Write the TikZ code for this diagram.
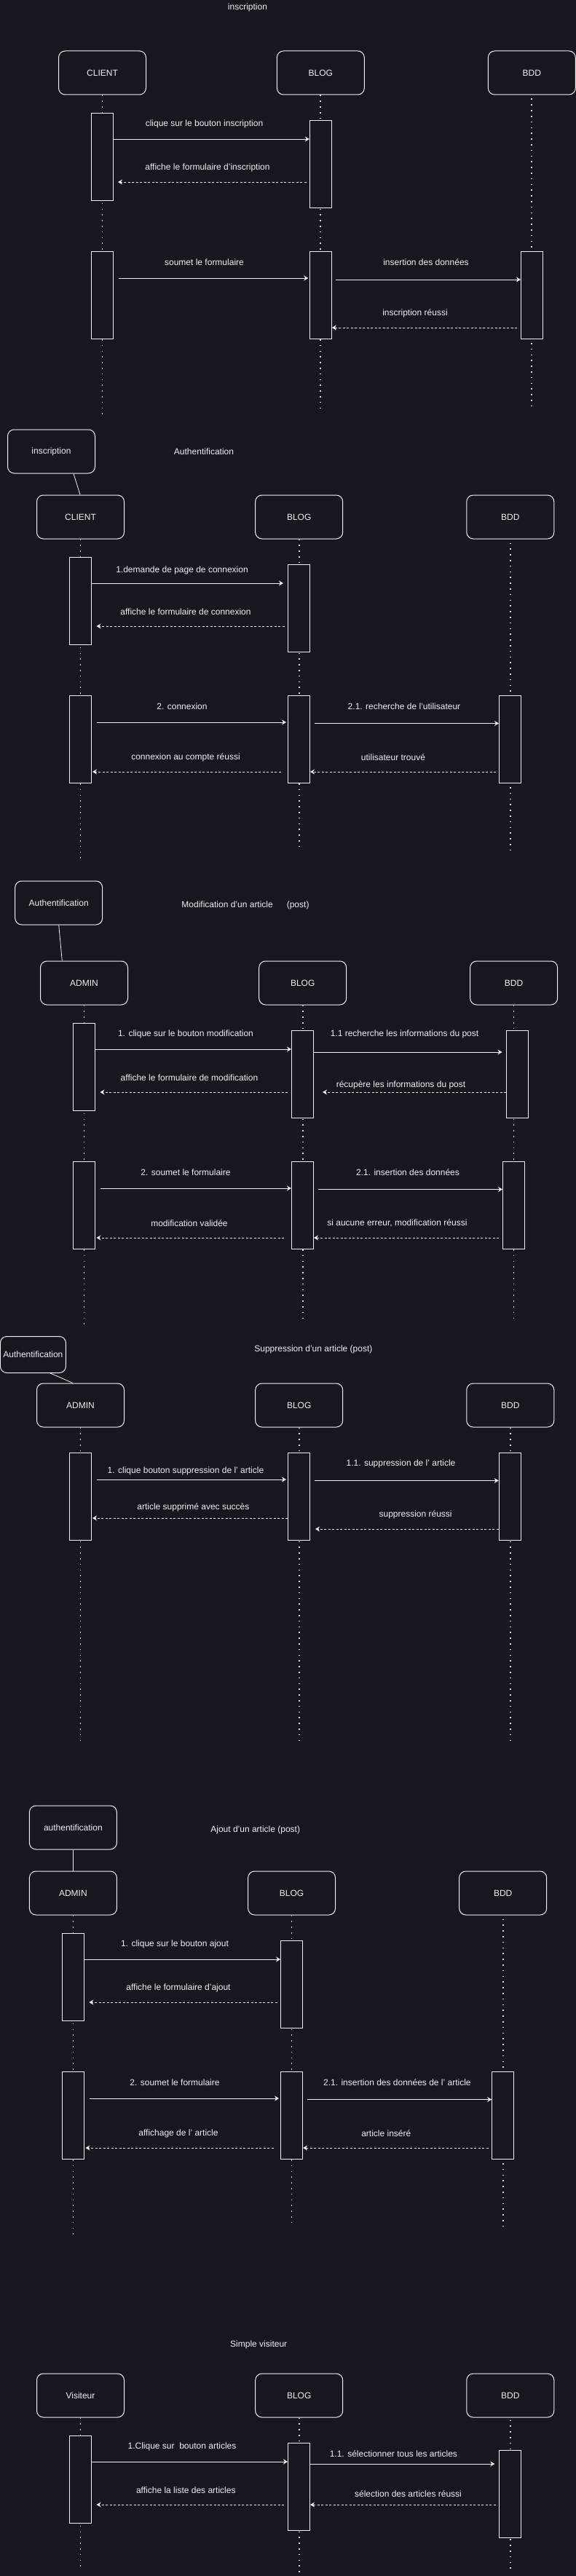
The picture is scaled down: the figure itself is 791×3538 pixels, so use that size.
\documentclass[tikz,border=0pt]{standalone}
\usepackage{fontspec}
\setmainfont{Liberation Sans}
\usetikzlibrary{arrows.meta}
\definecolor{bg}{HTML}{18161F}
\definecolor{fg}{HTML}{F0F0F0}
\definecolor{dotc}{HTML}{D8D8D8}
\tikzset{
  base/.style={font=\fontsize{12}{14}\selectfont, text=fg},
  part/.style={base, draw=fg, fill=bg, line width=1pt, rounded corners=9pt, minimum width=120pt, minimum height=60pt, inner sep=0pt},
  smallnote/.style={part, minimum width=90pt, minimum height=50pt},
  actbox/.style={draw=fg, fill=bg, line width=1pt, minimum width=30pt, minimum height=120pt, inner sep=0pt},
  life/.style={draw=dotc, line width=1.7pt, dash pattern=on 1.7pt off 6.1pt},
  msg/.style={draw=fg, line width=1pt, -{Stealth[length=6pt,width=7pt]}},
  ret/.style={msg, dash pattern=on 3pt off 2.5pt},
  lbl/.style={base, inner sep=0pt},
  link/.style={draw=fg, line width=0.8pt},
}
\begin{document}
\begin{tikzpicture}[x=1pt,y=-1pt]
\fill[bg] (0,0) rectangle (791,3538);
\useasboundingbox (0,0) rectangle (791,3538);

% ================= Section 1 : inscription =================
\node[lbl] (t1) at (340,10) {inscription};
\node[part] (p1a) at (140.5,100) {CLIENT};
\node[part] (p1b) at (440.3,100) {BLOG};
\node[part] (p1c) at (730.3,100) {BDD};
\draw[life] (p1a.south) -- (p1a.south |- 0,570);
\draw[life] (p1b.south) -- (p1b.south |- 0,560);
\draw[life, shorten <=5pt] (p1c.south) -- (p1c.south |- 0,560);
\node[actbox] (s1a1) at (140.5,215) {};
\node[actbox] (s1b1) at (440.3,225) {};
\node[actbox] (s1a2) at (140.5,405) {};
\node[actbox] (s1b2) at (440.3,405) {};
\node[actbox] (s1c2) at (730.5,405) {};
\draw[msg] (s1a1.east |- 0,191) -- (s1b1.west |- 0,191);
\draw[ret, shorten <=4pt, shorten >=6pt] (s1b1.west |- 0,250) -- (s1a1.east |- 0,250);
\draw[msg, shorten <=7pt, shorten >=1.5pt] (s1a2.east |- 0,382) -- (s1b2.west |- 0,382);
\draw[msg, shorten <=5.5pt] (s1b2.east |- 0,384) -- (s1c2.west |- 0,384);
\draw[ret, shorten <=5pt] (s1c2.west |- 0,450) -- (s1b2.east |- 0,450);
\node[lbl] (l11) at (280.5,170) {clique sur le bouton inscription};
\node[lbl] (l12) at (285,230) {affiche le formulaire d'inscription};
\node[lbl] (l13) at (280.5,360) {soumet le formulaire};
\node[lbl] (l14) at (585,360) {insertion des données};
\node[lbl] (l15) at (570,430) {inscription réussi};

% ================= Section 2 : Authentification =================
\node[lbl] (t2) at (280,620) {Authentification};
\node[part] (n2) at (70.5,620) {inscription};
\node[part] (p2a) at (110.5,710) {CLIENT};
\node[part] (p2b) at (410.7,710) {BLOG};
\node[part] (p2c) at (700.8,710) {BDD};
\draw[link] ([xshift=30.5pt]n2.south) -- ([xshift=-0.5pt]p2a.north);
\draw[life] (p2a.south) -- (p2a.south |- 0,1180);
\draw[life] (p2b.south) -- (p2b.south |- 0,1169);
\draw[life, shorten <=5pt] (p2c.south) -- (p2c.south |- 0,1169);
\node[actbox] (s2a1) at (110.5,825) {};
\node[actbox] (s2b1) at (410.5,835) {};
\node[actbox] (s2a2) at (110.5,1015) {};
\node[actbox] (s2b2) at (410.5,1015) {};
\node[actbox] (s2c2) at (700.5,1015) {};
\draw[msg, shorten >=6pt] (s2a1.east |- 0,801) -- (s2b1.west |- 0,801);
\draw[ret, shorten <=4.5pt, shorten >=6.5pt] (s2b1.west |- 0,860) -- (s2a1.east |- 0,860);
\draw[msg, shorten <=6.5pt, shorten >=2pt] (s2a2.east |- 0,992) -- (s2b2.west |- 0,992);
\draw[msg, shorten <=5.5pt] (s2b2.east |- 0,993.5) -- (s2c2.west |- 0,993.5);
\draw[ret, shorten <=9.5pt, shorten >=1pt] (s2b2.west |- 0,1060) -- (s2a2.east |- 0,1060);
\draw[ret, shorten <=4pt] (s2c2.west |- 0,1060) -- (s2b2.east |- 0,1060);
\node[lbl] (l21) at (250,783) {1.demande de page de connexion};
\node[lbl] (l22) at (255,840) {affiche le formulaire de connexion};
\node[lbl] (l23) at (250,970) {2. connexion};
\node[lbl] (l24) at (555,970) {2.1. recherche de l'utilisateur};
\node[lbl] (l25) at (255,1040) {connexion au compte réussi};
\node[lbl] (l26) at (540,1040) {utilisateur trouvé};

% ================= Section 3 : Modification =================
\node[lbl] (t3) at (337,1243) {Modification d'un article\hspace{19pt}(post)};
\node[part] (n3) at (80.7,1240) {Authentification};
\node[part] (p3a) at (115.5,1350) {ADMIN};
\node[part] (p3b) at (415.7,1350) {BLOG};
\node[part] (p3c) at (705.6,1350) {BDD};
\draw[link] (n3.south) -- ([xshift=-30.2pt]p3a.north);
\draw[life] (p3a.south) -- (p3a.south |- 0,1820);
\draw[life] (p3b.south) -- (p3b.south |- 0,1810);
\draw[life] (p3c.south) -- (p3c.south |- 0,1810);
\node[actbox] (s3a1) at (115.5,1465) {};
\node[actbox] (s3b1) at (415.5,1475) {};
\node[actbox] (s3c1) at (710.6,1475) {};
\node[actbox] (s3a2) at (115.5,1655) {};
\node[actbox] (s3b2) at (415.5,1655) {};
\node[actbox] (s3c2) at (705.6,1655) {};
\draw[msg] (s3a1.east |- 0,1441) -- (s3b1.west |- 0,1441);
\draw[msg, shorten >=5.6pt] (s3b1.east |- 0,1445) -- (s3c1.west |- 0,1445);
\draw[ret, shorten <=4.6pt, shorten >=6.5pt] (s3b1.west |- 0,1500) -- (s3a1.east |- 0,1500);
\draw[ret, shorten >=12pt] (s3c1.west |- 0,1500) -- (s3b1.east |- 0,1500);
\draw[msg, shorten <=7pt] (s3a2.east |- 0,1632) -- (s3b2.west |- 0,1632);
\draw[msg, shorten <=5.6pt] (s3b2.east |- 0,1633.5) -- (s3c2.west |- 0,1633.5);
\draw[ret, shorten <=9.6pt, shorten >=1.5pt] (s3b2.west |- 0,1700) -- (s3a2.east |- 0,1700);
\draw[ret, shorten <=4.7pt] (s3c2.west |- 0,1700) -- (s3b2.east |- 0,1700);
\node[lbl] (l31) at (255,1420) {1. clique sur le bouton modification};
\node[lbl] (l32) at (555.5,1420) {1.1 recherche les informations du post};
\node[lbl] (l33) at (260,1480) {affiche le formulaire de modification};
\node[lbl] (l34) at (550.5,1490) {récupère les informations du post};
\node[lbl] (l35) at (255,1610) {2. soumet le formulaire};
\node[lbl] (l36) at (560,1610) {2.1. insertion des données};
\node[lbl] (l37) at (260,1680) {modification validée};
\node[lbl] (l38) at (545.4,1680) {si aucune erreur, modification réussi};

% ================= Section 4 : Suppression =================
\node[lbl] (t4) at (430.4,1853) {Suppression d'un article (post)};
\node[smallnote] (n4) at (45.4,1860.5) {Authentification};
\node[part] (p4a) at (110.5,1930) {ADMIN};
\node[part] (p4b) at (410.7,1930) {BLOG};
\node[part] (p4c) at (700.8,1930) {BDD};
\draw[link] ([xshift=23.7pt]n4.south) -- ([xshift=-10.6pt]p4a.north);
\draw[life] (p4a.south) -- (p4a.south |- 0,2397);
\draw[life] (p4b.south) -- (p4b.south |- 0,2390);
\draw[life] (p4c.south) -- (p4c.south |- 0,2390);
\node[actbox] (s4a1) at (110.5,2055) {};
\node[actbox] (s4b1) at (410.5,2055) {};
\node[actbox] (s4c1) at (700.2,2055) {};
\draw[msg, shorten <=6.6pt, shorten >=2pt] (s4a1.east |- 0,2032) -- (s4b1.west |- 0,2032);
\draw[msg, shorten <=5.7pt] (s4b1.east |- 0,2033.5) -- (s4c1.west |- 0,2033.5);
\draw[ret, shorten >=1pt] (s4b1.west |- 0,2085) -- (s4a1.east |- 0,2085);
\draw[ret, shorten >=7pt] (s4c1.west |- 0,2100) -- (s4b1.east |- 0,2100);
\node[lbl] (l41) at (255,2020) {1. clique bouton suppression de l' article};
\node[lbl] (l42) at (550.5,2010) {1.1. suppression de l' article};
\node[lbl] (l43) at (265.4,2070) {article supprimé avec succès};
\node[lbl] (l44) at (570.6,2080) {suppression réussi};

% ================= Section 5 : Ajout =================
\node[lbl] (t5) at (350.7,2513) {Ajout d'un article (post)};
\node[part] (n5) at (100.4,2510) {authentification};
\node[part] (p5a) at (100.4,2600) {ADMIN};
\node[part] (p5b) at (400.6,2600) {BLOG};
\node[part] (p5c) at (690.7,2600) {BDD};
\draw[link] (n5.south) -- (p5a.north);
\draw[life] (p5a.south) -- (p5a.south |- 0,3070);
\draw[life] (p5b.south) -- (p5b.south |- 0,3059);
\draw[life, shorten <=5pt] (p5c.south) -- (p5c.south |- 0,3059);
\node[actbox] (s5a1) at (100.4,2715) {};
\node[actbox] (s5b1) at (400.6,2725) {};
\node[actbox] (s5a2) at (100.4,2905) {};
\node[actbox] (s5b2) at (400.6,2905) {};
\node[actbox] (s5c2) at (690.7,2905) {};
\draw[msg] (s5a1.east |- 0,2691) -- (s5b1.west |- 0,2691);
\draw[ret, shorten <=4.5pt, shorten >=6.5pt] (s5b1.west |- 0,2750) -- (s5a1.east |- 0,2750);
\draw[msg, shorten <=7pt, shorten >=2pt] (s5a2.east |- 0,2882) -- (s5b2.west |- 0,2882);
\draw[msg, shorten <=5.6pt] (s5b2.east |- 0,2883.5) -- (s5c2.west |- 0,2883.5);
\draw[ret, shorten <=9.6pt, shorten >=1.5pt] (s5b2.west |- 0,2950) -- (s5a2.east |- 0,2950);
\draw[ret, shorten <=4.6pt] (s5c2.west |- 0,2950) -- (s5b2.east |- 0,2950);
\node[lbl] (l51) at (240,2670) {1. clique sur le bouton ajout};
\node[lbl] (l52) at (245,2730) {affiche le formulaire d'ajout};
\node[lbl] (l53) at (240,2860) {2. soumet le formulaire};
\node[lbl] (l54) at (545.4,2860) {2.1. insertion des données de l' article};
\node[lbl] (l55) at (245,2930) {affichage de l' article};
\node[lbl] (l56) at (530.3,2930) {article inséré};

% ================= Section 6 : Simple visiteur =================
\node[lbl] (t6) at (355.2,3220) {Simple visiteur};
\node[part] (p6a) at (110.5,3290) {Visiteur};
\node[part] (p6b) at (410.7,3290) {BLOG};
\node[part] (p6c) at (700.8,3290) {BDD};
\draw[life] (p6a.south) -- (p6a.south |- 0,3530);
\draw[life] (p6b.south) -- (p6b.south |- 0,3534);
\draw[life, shorten <=3pt] (p6c.south) -- (p6c.south |- 0,3530);
\node[actbox] (s6a1) at (110.5,3405) {};
\node[actbox] (s6b1) at (410.5,3415) {};
\node[actbox] (s6c1) at (700.2,3425) {};
\draw[msg] (s6a1.east |- 0,3381) -- (s6b1.west |- 0,3381);
\draw[msg, shorten >=5.4pt] (s6b1.east |- 0,3384) -- (s6c1.west |- 0,3384);
\draw[ret, shorten <=4.6pt, shorten >=6.6pt] (s6b1.west |- 0,3440) -- (s6a1.east |- 0,3440);
\draw[ret, shorten <=4pt] (s6c1.west |- 0,3440) -- (s6b1.east |- 0,3440);
\node[lbl] (l61) at (250,3360) {1.Clique sur\ \ bouton articles};
\node[lbl] (l62) at (540.4,3370) {1.1. sélectionner tous les articles};
\node[lbl] (l63) at (255.3,3420) {affiche la liste des articles};
\node[lbl] (l64) at (560.5,3425) {sélection des articles réussi};
\end{tikzpicture}
\end{document}
